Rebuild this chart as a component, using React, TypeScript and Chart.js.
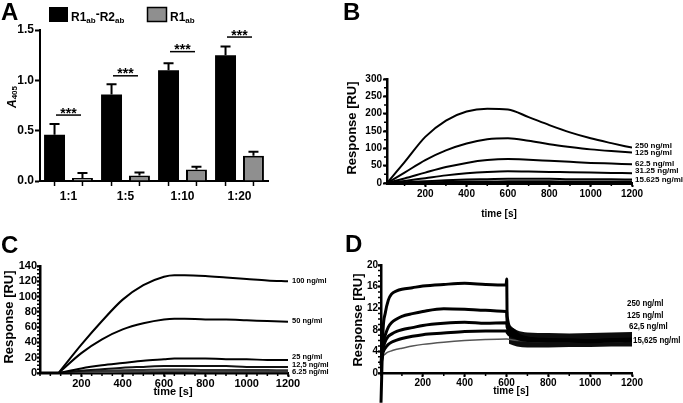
import React, { useEffect, useRef } from 'react';
import { Chart, registerables } from 'chart.js';

Chart.register(...registerables);

const FONT = '"Liberation Sans", Arial, Helvetica, sans-serif';

// ---------------- Panel A (ELISA bars) ----------------
const A_CATEGORIES = ['1:1', '1:5', '1:10', '1:20'];
const A_COMPLEX = [0.46, 0.86, 1.1, 1.25];
const A_COMPLEX_ERR = [0.105, 0.1, 0.07, 0.085];
const A_R1 = [0.03, 0.055, 0.115, 0.25];
const A_R1_ERR = [0.05, 0.03, 0.027, 0.04];
const A_SIG_LEVEL = [0.655, 1.045, 1.285, 1.43];
const A_Y_TICKS = [0, 0.5, 1, 1.5];

// ---------------- Panel B (SPR) ----------------
const B_TIME = [15, 100, 200, 300, 400, 500, 600, 700, 800, 900, 1000, 1100, 1200];
const B_250 = [0, 60, 133, 180, 206, 214, 212, 190, 167, 146, 129, 115, 102];
const B_125 = [0, 30, 66, 94, 114, 126, 129, 122, 112, 104, 97, 92, 88];
const B_62 = [0, 13, 30, 46, 58, 66, 69, 67, 64, 61, 58, 56, 54];
const B_31 = [0, 6, 14, 22, 28, 32, 34, 33, 32, 31, 30, 29, 28];
const B_15 = [0, 2, 5, 8, 10, 11, 12, 12, 12, 11, 11, 11, 10];
const B_7 = [0, 1, 2, 3, 4, 4, 5, 5, 5, 4, 4, 4, 4];
const B_LABELS = ['250 ng/ml', '125 ng/ml', '62.5 ng/ml', '31.25 ng/ml', '15.625 ng/ml'];
const B_LABEL_Y = [107, 88, 54, 35, 10];
const B_X_TICKS = [200, 400, 600, 800, 1000, 1200];
const B_Y_TICKS = [0, 50, 100, 150, 200, 250, 300];

// ---------------- Panel C (SPR) ----------------
const C_BASE_TIME = [0, 90];
const C_BASE = [0, 0];
const C_TIME = [90, 200, 300, 400, 500, 600, 650, 700, 800, 900, 1000, 1100, 1200];
const C_100 = [0, 37, 68, 96, 115, 126, 128, 128, 127, 125, 123, 121, 120];
const C_50 = [0, 26, 44, 57, 65, 70, 71, 71, 70, 70, 69, 68, 67];
const C_25 = [0, 6, 10, 13, 16, 18, 19, 19, 19, 18, 18, 17, 17];
const C_12 = [0, 3, 5, 7, 8, 9, 9, 9, 9, 9, 8, 8, 8];
const C_6 = [0, 1.5, 2.5, 3.5, 4, 4.5, 4.5, 4.5, 4, 4, 4, 4, 3.5];
const C_3 = [0, 0.8, 1.2, 1.6, 2, 2.2, 2.2, 2.2, 2, 2, 2, 2, 2];
const C_LABELS = ['100 ng/ml', '50 ng/ml', '25 ng/ml', '12,5 ng/ml', '6.25 ng/ml'];
const C_LABEL_Y = [120.7, 68.2, 21, 11, 1.3];
const C_X_TICKS = [200, 400, 600, 800, 1000, 1200];
const C_Y_TICKS = [0, 20, 40, 60, 80, 100, 120, 140];

// ---------------- Panel D (SPR) ----------------
const D_TIME = [0, 10, 20, 35, 50, 75, 100, 150, 200, 300, 400, 500, 598, 601, 603, 630, 660, 700, 800, 900, 1000, 1100, 1200];
const D_250 = [-5.5, 8, 11, 13.5, 14.6, 15.2, 15.5, 15.8, 16.1, 16.4, 16.6, 16.4, 16.3, 17.4, 10.5, 8.0, 7.0, 6.5, 6.2, 6.1, 6.0, 6.2, 6.3];
const D_125 = [2, 5.5, 7, 8.5, 9.3, 10.0, 10.5, 11.0, 11.4, 11.9, 11.8, 11.6, 11.4, 11.3, 9.5, 7.5, 6.8, 6.4, 6.1, 6.1, 6.0, 6.1, 6.2];
const D_62 = [1.5, 4.5, 5.8, 6.8, 7.2, 7.7, 8.0, 8.4, 8.8, 9.2, 9.4, 9.2, 9.3, 9.2, 8.5, 7.2, 6.6, 6.2, 6.0, 6.0, 5.9, 6.0, 6.1];
const D_31 = [1.5, 3.8, 4.6, 5.3, 5.7, 6.1, 6.4, 6.8, 7.1, 7.4, 7.7, 7.8, 7.8, 7.8, 7.5, 6.8, 6.3, 6.0, 5.9, 5.9, 5.8, 5.9, 6.0];
const D_15 = [1.5, 3.0, 3.5, 3.9, 4.1, 4.4, 4.6, 5.0, 5.3, 5.7, 6.0, 6.2, 6.3, 6.3, 6.3, 6.1, 6.0, 5.9, 5.8, 5.8, 5.8, 5.8, 5.9];
const D_BAND_TIME = [612, 650, 700, 800, 900, 1000, 1100, 1200];
const D_BAND_HIGH = [9.0, 7.9, 7.5, 7.4, 7.3, 7.4, 7.5, 7.6];
const D_BAND_LOW = [5.4, 4.9, 4.7, 4.7, 4.8, 4.8, 4.9, 4.9];
const D_LABELS = ['250 ng/ml', '125 ng/ml', '62,5 ng/ml', '15,625 ng/ml'];
const D_LABEL_Y = [12.8, 10.7, 8.7, 6.1];
const D_X_TICKS = [200, 400, 600, 800, 1000, 1200];
const D_Y_TICKS = [0, 4, 8, 12, 16, 20];

// ---------------- helpers ----------------
type Seg = { t: string; size: number; dy?: number; italic?: boolean };

function fontOf(s: Seg) {
  return `${s.italic ? 'italic ' : ''}bold ${s.size}px ${FONT}`;
}

function drawRich(ctx: CanvasRenderingContext2D, segs: Seg[], x: number, y: number, align: 'left' | 'center', baseline: CanvasTextBaseline = 'alphabetic') {
  let total = 0;
  segs.forEach((s) => {
    ctx.font = fontOf(s);
    total += ctx.measureText(s.t).width;
  });
  let cx = align === 'center' ? x - total / 2 : x;
  ctx.textAlign = 'left';
  ctx.textBaseline = baseline;
  segs.forEach((s) => {
    ctx.font = fontOf(s);
    ctx.fillText(s.t, cx, y + (s.dy || 0));
    cx += ctx.measureText(s.t).width;
  });
}

function drawVertical(ctx: CanvasRenderingContext2D, segs: Seg[], x: number, y: number) {
  ctx.save();
  ctx.translate(x, y);
  ctx.rotate(-Math.PI / 2);
  drawRich(ctx, segs, 0, 0, 'center', 'middle');
  ctx.restore();
}

function linScale(axis: 'x' | 'y', min: number, max: number, ticks: number[], size: number, fit: number, tickLength: number, pad: number, borderWidth = 2) {
  return {
    type: 'linear',
    min,
    max,
    border: { display: true, color: '#000', width: borderWidth },
    grid: { display: true, drawOnChartArea: false, drawTicks: true, tickLength, color: '#000', tickColor: '#000', tickWidth: 2 },
    ticks: {
      color: '#000',
      font: { family: FONT, size, weight: 'bold' },
      padding: pad,
      autoSkip: false,
      maxRotation: 0,
      minRotation: 0,
      includeBounds: false,
      callback: (v: number) => String(v),
    },
    afterBuildTicks: (s: any) => {
      s.ticks = ticks.map((v) => ({ value: v }));
    },
    afterFit: (s: any) => {
      if (axis === 'x') s.height = fit;
      else s.width = fit;
    },
  };
}

type PanelCfg = {
  letter: string;
  letterPos: [number, number];
  yTitlePos: [number, number];
  xTitlePos: [number, number];
  xTitleSize: number;
  labels: string[];
  labelY: number[];
  labelDx: number[];
  labelSize: number;
  labelScaleX: number;
  minorX: number;
  minorY: number;
};

function linePanelPlugin(cfg: PanelCfg) {
  return {
    id: 'panelExtras',
    afterDraw(chart: any) {
      const ctx: CanvasRenderingContext2D = chart.ctx;
      const xs = chart.scales.x;
      const ys = chart.scales.y;
      ctx.save();
      ctx.fillStyle = '#000';
      ctx.strokeStyle = '#000';
      // minor ticks
      ctx.lineWidth = 1.5;
      ctx.beginPath();
      for (let v = Math.ceil(xs.min / cfg.minorX) * cfg.minorX; v <= xs.max; v += cfg.minorX) {
        const px = xs.getPixelForValue(v);
        ctx.moveTo(px, ys.bottom);
        ctx.lineTo(px, ys.bottom + 3);
      }
      for (let v = ys.min; v <= ys.max + 1e-9; v += cfg.minorY) {
        const py = ys.getPixelForValue(v);
        ctx.moveTo(xs.left - 3, py);
        ctx.lineTo(xs.left, py);
      }
      ctx.stroke();
      // series labels
      cfg.labels.forEach((lab, i) => {
        ctx.save();
        ctx.translate(xs.right + cfg.labelDx[i], ys.getPixelForValue(cfg.labelY[i]));
        ctx.scale(cfg.labelScaleX, 1);
        ctx.font = `bold ${cfg.labelSize}px ${FONT}`;
        ctx.textAlign = 'left';
        ctx.textBaseline = 'middle';
        ctx.fillText(lab, 0, 0);
        ctx.restore();
      });
      // panel letter
      ctx.font = `bold 24px ${FONT}`;
      ctx.textAlign = 'left';
      ctx.textBaseline = 'alphabetic';
      ctx.fillText(cfg.letter, cfg.letterPos[0], cfg.letterPos[1]);
      // axis titles
      drawVertical(ctx, [{ t: 'Response [RU]', size: 13 }], cfg.yTitlePos[0], cfg.yTitlePos[1]);
      ctx.font = `bold ${cfg.xTitleSize}px ${FONT}`;
      ctx.textAlign = 'center';
      ctx.textBaseline = 'middle';
      ctx.fillText('time [s]', cfg.xTitlePos[0], cfg.xTitlePos[1]);
      ctx.restore();
    },
  };
}

function lineSet(time: number[], vals: number[], color: string, width: number, extra: any = {}) {
  return {
    data: time.map((t, i) => ({ x: t, y: vals[i] })),
    borderColor: color,
    borderWidth: width,
    pointRadius: 0,
    fill: false,
    cubicInterpolationMode: 'monotone',
    ...extra,
  };
}

const baseOptions = {
  responsive: false,
  animation: false,
  events: [],
  plugins: { legend: { display: false }, tooltip: { enabled: false } },
};

// ---------------- builders ----------------
function buildA() {
  const aPlugin = {
    id: 'aExtras',
    afterDatasetsDraw(chart: any) {
      const ctx: CanvasRenderingContext2D = chart.ctx;
      const x = chart.scales.x;
      const y = chart.scales.y;
      ctx.save();
      ctx.strokeStyle = '#000';
      ctx.fillStyle = '#000';
      const sets: [number[], number[]][] = [
        [A_COMPLEX, A_COMPLEX_ERR],
        [A_R1, A_R1_ERR],
      ];
      sets.forEach(([vals, errs], di) => {
        chart.getDatasetMeta(di).data.forEach((bar: any, i: number) => {
          const yTop = y.getPixelForValue(vals[i] + errs[i]);
          const yBar = y.getPixelForValue(vals[i]);
          ctx.lineWidth = 2;
          ctx.beginPath();
          ctx.moveTo(bar.x, yBar);
          ctx.lineTo(bar.x, yTop);
          ctx.moveTo(bar.x - 5, yTop);
          ctx.lineTo(bar.x + 5, yTop);
          ctx.stroke();
          ctx.lineWidth = 1.5;
          ctx.beginPath();
          ctx.moveTo(bar.x, y.bottom);
          ctx.lineTo(bar.x, y.bottom + 5);
          ctx.stroke();
        });
      });
      A_SIG_LEVEL.forEach((lv, i) => {
        const cx = x.getPixelForValue(i);
        const ly = y.getPixelForValue(lv);
        ctx.lineWidth = 1.5;
        ctx.beginPath();
        ctx.moveTo(cx - 12.5, ly);
        ctx.lineTo(cx + 12.5, ly);
        ctx.stroke();
        ctx.font = `bold 14px ${FONT}`;
        ctx.textAlign = 'center';
        ctx.textBaseline = 'alphabetic';
        ctx.fillText('***', cx, ly + 2.5);
      });
      ctx.restore();
    },
    afterDraw(chart: any) {
      const ctx: CanvasRenderingContext2D = chart.ctx;
      ctx.save();
      ctx.fillStyle = '#000';
      ctx.font = `bold 24px ${FONT}`;
      ctx.textAlign = 'left';
      ctx.textBaseline = 'alphabetic';
      ctx.fillText('A', 1, 19.5);
      // legend
      ctx.fillStyle = '#000';
      ctx.fillRect(49, 7, 19, 15);
      drawRich(ctx, [
        { t: 'R1', size: 12 },
        { t: 'ab', size: 8, dy: 2.5 },
        { t: '-', size: 12, dy: -3 },
        { t: 'R2', size: 12 },
        { t: 'ab', size: 8, dy: 2.5 },
      ], 71, 20.5, 'left');
      ctx.fillStyle = '#8f8f8f';
      ctx.fillRect(147.5, 7.5, 19, 14);
      ctx.strokeStyle = '#000';
      ctx.lineWidth = 1.5;
      ctx.strokeRect(147.5, 7.5, 19, 14);
      ctx.fillStyle = '#000';
      drawRich(ctx, [
        { t: 'R1', size: 12 },
        { t: 'ab', size: 8, dy: 2.5 },
      ], 170, 20.5, 'left');
      // y title A405
      drawVertical(ctx, [
        { t: 'A', size: 12, italic: true },
        { t: '405', size: 8, dy: 2 },
      ], 12.5, 97);
      ctx.restore();
    },
  };

  const y = linScale('y', 0, 1.5, A_Y_TICKS, 12, 40, 5, 1);
  y.ticks.callback = (v: number) => v.toFixed(1);

  return {
    type: 'bar',
    data: {
      labels: A_CATEGORIES,
      datasets: [
        { label: 'R1ab-R2ab', data: A_COMPLEX, backgroundColor: '#000', borderColor: '#000', borderWidth: 0 },
        { label: 'R1ab', data: A_R1, backgroundColor: '#8f8f8f', borderColor: '#000', borderWidth: 2 },
      ],
    },
    options: {
      ...baseOptions,
      layout: { padding: { left: 0, top: 30, right: 72, bottom: 0 } },
      datasets: { bar: { categoryPercentage: 0.98, barPercentage: 0.75 } },
      scales: {
        x: {
          type: 'category',
          border: { display: true, color: '#000', width: 2 },
          grid: { display: true, drawOnChartArea: false, drawTicks: true, tickLength: 4, color: 'rgba(0,0,0,0)', tickColor: 'rgba(0,0,0,0)' },
          ticks: { color: '#000', font: { family: FONT, size: 12, weight: 'bold' }, padding: 4, maxRotation: 0, autoSkip: false },
          afterFit: (s: any) => {
            s.height = 24;
          },
        },
        y,
      },
    },
    plugins: [aPlugin],
  };
}

function buildB() {
  const series = [B_250, B_125, B_62, B_31, B_15, B_7];
  return {
    type: 'line',
    data: { datasets: series.map((s) => lineSet(B_TIME, s, '#000', 2)) },
    options: {
      ...baseOptions,
      layout: { padding: { left: 0, top: 79, right: 51, bottom: 0 } },
      scales: {
        x: linScale('x', 15, 1200, B_X_TICKS, 10, 42, 4, 1, 3),
        y: linScale('y', 0, 300, B_Y_TICKS, 10, 47, 4, 1, 2.5),
      },
    },
    plugins: [
      linePanelPlugin({
        letter: 'B',
        letterPos: [3, 19.5],
        yTitlePos: [12, 128],
        xTitlePos: [159, 214],
        xTitleSize: 10,
        labels: B_LABELS,
        labelY: B_LABEL_Y,
        labelDx: [3, 3, 3, 3, 3],
        labelSize: 8,
        labelScaleX: 1,
        minorX: 100,
        minorY: 25,
      }),
    ],
  };
}

function buildC() {
  const series = [C_100, C_50, C_25, C_12, C_6, C_3];
  const colors = ['#000', '#000', '#000', '#111', '#333', '#444'];
  const datasets: any[] = series.map((s, i) => lineSet(C_TIME, s, colors[i], 2));
  datasets.push(lineSet(C_BASE_TIME, C_BASE, '#000', 3));
  return {
    type: 'line',
    data: { datasets },
    options: {
      ...baseOptions,
      layout: { padding: { left: 0, top: 61, right: 52, bottom: 0 } },
      scales: {
        x: linScale('x', 0, 1200, C_X_TICKS, 11, 30, 4, 0, 2.5),
        y: linScale('y', 0, 140, C_Y_TICKS, 11, 40, 3, 0, 2.5),
      },
    },
    plugins: [
      linePanelPlugin({
        letter: 'C',
        letterPos: [1, 48],
        yTitlePos: [9, 112],
        xTitlePos: [173, 187],
        xTitleSize: 11,
        labels: C_LABELS,
        labelY: C_LABEL_Y,
        labelDx: [4, 4, 4, 4, 4],
        labelSize: 7.5,
        labelScaleX: 1,
        minorX: 50,
        minorY: 5,
      }),
    ],
  };
}

function buildD() {
  const series = [D_250, D_125, D_62, D_31];
  const datasets: any[] = series.map((s) => lineSet(D_TIME, s, '#000', 3, { clip: false }));
  datasets.push(lineSet(D_TIME, D_15, '#555', 1.5));
  datasets.push(lineSet(D_BAND_TIME, D_BAND_HIGH, 'rgba(0,0,0,0)', 0));
  datasets.push(lineSet(D_BAND_TIME, D_BAND_LOW, 'rgba(0,0,0,0)', 0, { fill: '-1', backgroundColor: '#0d0d0d' }));
  return {
    type: 'line',
    data: { datasets },
    options: {
      ...baseOptions,
      layout: { padding: { left: 0, top: 40, right: 51, bottom: 0 } },
      scales: {
        x: linScale('x', 0, 1200, D_X_TICKS, 10, 30, 4, 0, 2.5),
        y: linScale('y', 0, 20, D_Y_TICKS, 10, 41, 3, 0, 2.5),
      },
    },
    plugins: [
      linePanelPlugin({
        letter: 'D',
        letterPos: [5, 26.5],
        yTitlePos: [18, 95],
        xTitlePos: [171, 166],
        xTitleSize: 10,
        labels: D_LABELS,
        labelY: D_LABEL_Y,
        labelDx: [-5, -5, -3, 1],
        labelSize: 9,
        labelScaleX: 0.88,
        minorX: 100,
        minorY: 1,
      }),
    ],
  };
}

function Panel({ left, top, width, height, build }: any) {
  const ref = useRef<HTMLCanvasElement>(null);
  useEffect(() => {
    if (!ref.current) return;
    const chart = new Chart(ref.current, build());
    return () => chart.destroy();
  }, [build]);
  return (
    <canvas
      ref={ref}
      width={width}
      height={height}
      style={{ position: 'absolute', left, top, width, height, display: 'block' }}
    />
  );
}

export default function App() {
  return (
    <div style={{ position: 'absolute', left: 0, top: 0, width: 683, height: 403, background: '#fff', overflow: 'hidden' }}>
      <Panel left={0} top={0} width={340} height={205} build={buildA} />
      <Panel left={340} top={0} width={343} height={225} build={buildB} />
      <Panel left={0} top={205} width={340} height={198} build={buildC} />
      <Panel left={340} top={225} width={343} height={178} build={buildD} />
    </div>
  );
}
